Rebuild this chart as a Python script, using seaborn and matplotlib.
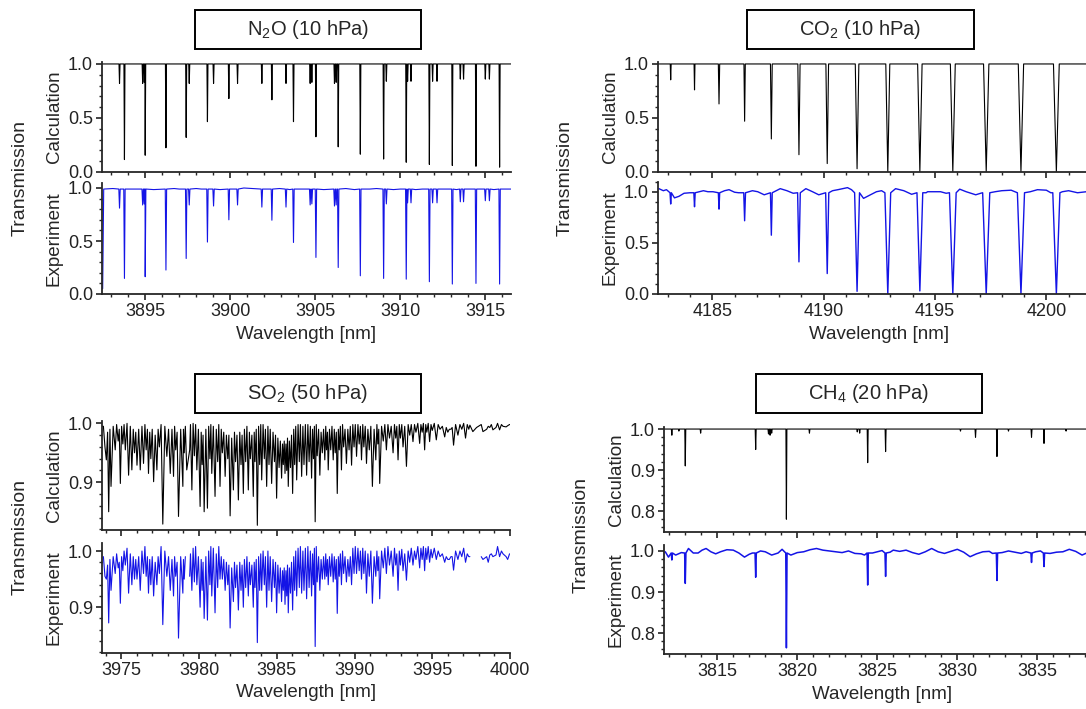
import numpy as np
import pandas as pd
import seaborn as sns
import matplotlib.pyplot as plt
from matplotlib.ticker import MultipleLocator, FormatStrFormatter
from matplotlib.patches import Rectangle

# --- Data (line centres in nm, transmission at line centre) ---

# N2O (10 hPa)
n2o_strong_pos = [3893.78, 3895.00, 3896.22, 3897.41, 3898.66, 3899.92, 3902.45, 3903.72, 3905.04,
                  3906.35, 3907.65, 3909.02, 3910.35, 3911.71, 3913.06, 3914.45, 3915.84]
n2o_strong_calc = [0.115, 0.155, 0.224, 0.32, 0.466, 0.68, 0.668, 0.466, 0.326,
                   0.233, 0.165, 0.12, 0.09, 0.07, 0.06, 0.053, 0.045]
n2o_strong_exp = [0.147, 0.163, 0.226, 0.335, 0.49, 0.70, 0.696, 0.486, 0.345,
                  0.25, 0.172, 0.147, 0.14, 0.116, 0.094, 0.10, 0.094]
n2o_weak_pos = [3893.49, 3894.85, 3894.95, 3897.59, 3899.02, 3900.43, 3901.86, 3903.28, 3904.70, 3904.80,
                3906.13, 3906.23, 3909.18, 3910.43, 3910.63, 3911.90, 3912.16, 3913.53, 3913.72,
                3915.00, 3915.24]
n2o_weak_calc = [0.82, 0.82, 0.83, 0.82, 0.82, 0.82, 0.82, 0.82, 0.82, 0.83,
                 0.82, 0.83, 0.84, 0.84, 0.84, 0.84, 0.84, 0.86, 0.86, 0.86, 0.86]
n2o_weak_exp = [0.81, 0.84, 0.85, 0.84, 0.83, 0.84, 0.82, 0.82, 0.84, 0.85,
                0.83, 0.84, 0.85, 0.86, 0.86, 0.86, 0.86, 0.87, 0.87, 0.88, 0.88]
n2o_calc_edges = [3892.46, 3916.51]
n2o_exp_base_x = [3892.50, 3892.56, 3893.1, 3894.3, 3895.5, 3896.7, 3897.0, 3898.0, 3898.3, 3899.4, 3900.0,
                  3900.8, 3901.3, 3902.0, 3902.9, 3903.5, 3904.2, 3905.5, 3906.0, 3906.8, 3907.3, 3908.2,
                  3908.6, 3909.6, 3910.0, 3910.9, 3911.3, 3912.5, 3913.3, 3914.0, 3914.8, 3915.5, 3916.2,
                  3916.5]
n2o_exp_base_y = [0.05, 0.99, 0.995, 0.99, 0.985, 0.995, 0.99, 0.995, 0.99, 0.985, 0.99,
                  1.0, 0.995, 0.99, 0.995, 0.985, 0.99, 0.985, 0.99, 0.995, 0.985, 0.99,
                  0.995, 0.985, 0.99, 0.985, 0.99, 0.99, 0.985, 0.99, 0.99, 0.985, 0.99,
                  0.99]

# CO2 (10 hPa)
co2_pos = [4183.13, 4184.20, 4185.30, 4186.45, 4187.65, 4188.89, 4190.16,
           4191.50, 4192.88, 4194.32, 4195.80, 4197.30, 4198.86, 4200.45]
co2_calc = [0.853, 0.76, 0.63, 0.47, 0.306, 0.16, 0.078, 0.03, 0.0, 0.0, 0.0, 0.0, 0.0, 0.0]
co2_calc_hw = [0.02, 0.02, 0.03, 0.03, 0.04, 0.05, 0.06, 0.08, 0.09, 0.10, 0.11, 0.12, 0.12, 0.13]
co2_calc_edges = [4182.56, 4202.41]
co2_exp = [0.88, 0.853, 0.83, 0.716, 0.575, 0.314, 0.20, 0.026, 0.0, 0.03, 0.0, 0.0, 0.0, 0.0]
co2_exp_hw = [0.03, 0.03, 0.03, 0.04, 0.04, 0.06, 0.07, 0.11, 0.13, 0.13, 0.15, 0.16, 0.16, 0.16]
co2_exp_base_x = [4182.60, 4182.80, 4182.94, 4183.30, 4183.50, 4183.73, 4184.00, 4184.60, 4184.80, 4185.03,
                  4185.55, 4185.75, 4186.00, 4186.18, 4186.80, 4187.04, 4187.33, 4188.05, 4188.35, 4188.63,
                  4189.20, 4189.50, 4189.78, 4190.40, 4190.64, 4191.07, 4191.25, 4191.79, 4192.10, 4192.37,
                  4192.60, 4193.23, 4193.60, 4193.95, 4194.60, 4194.67, 4195.00, 4195.25, 4195.50, 4196.11,
                  4196.40, 4196.83, 4197.05, 4197.70, 4198.00, 4198.42, 4198.65, 4199.28, 4199.60, 4200.00,
                  4200.20, 4200.72, 4201.00, 4201.40, 4201.80, 4202.30]
co2_exp_base_y = [1.03, 1.01, 1.02, 0.94, 0.955, 0.985, 0.99, 1.01, 1.0, 1.0,
                  1.01, 1.02, 0.995, 0.99, 1.01, 1.0, 0.97, 1.03, 1.01, 0.985,
                  1.03, 1.0, 0.97, 1.01, 1.02, 1.04, 1.02, 0.935, 0.97, 1.0,
                  1.01, 1.03, 1.01, 0.975, 0.99, 1.0, 1.0, 1.0, 0.985, 1.025,
                  1.0, 0.97, 0.985, 1.0, 1.01, 1.015, 1.0, 1.0, 1.02, 1.015,
                  0.99, 1.0, 1.01, 0.99, 1.0, 1.0]

# SO2 (50 hPa)
so2_pos = [3973.95, 3974.04, 3974.19, 3974.34, 3974.61, 3974.94, 3975.26, 3975.47, 3975.68, 3976.01,
           3976.22, 3976.43, 3976.75, 3977.08, 3977.29, 3977.67, 3977.93, 3978.15, 3978.36, 3978.68,
           3978.96, 3979.21, 3979.54, 3979.86, 3980.07, 3980.33, 3980.54, 3980.82, 3981.03, 3981.35,
           3981.68, 3982.00, 3982.21, 3982.53, 3982.85, 3983.17, 3983.49, 3983.75, 3984.03, 3984.35,
           3984.67, 3984.99, 3985.31, 3985.53, 3985.74, 3986.02, 3986.28, 3986.60, 3986.92, 3987.24,
           3987.47, 3987.77, 3988.09, 3988.31, 3988.63, 3988.89, 3989.16, 3989.48, 3989.81, 3990.13,
           3990.45, 3990.77, 3991.15, 3991.37, 3991.62, 3992.05, 3992.48, 3992.80, 3993.12, 3993.34,
           3993.76, 3994.19, 3994.51, 3994.83, 3995.26, 3995.80, 3996.37, 3996.65, 3997.14, 3997.61,
           3998.26, 3998.90, 3999.33, 3999.75]
so2_calc = [0.960, 0.938, 0.850, 0.893, 0.955, 0.898, 0.955, 0.912, 0.921, 0.929,
            0.921, 0.932, 0.915, 0.901, 0.921, 0.829, 0.944, 0.915, 0.910, 0.842,
            0.893, 0.921, 0.887, 0.921, 0.859, 0.850, 0.856, 0.915, 0.876, 0.893,
            0.910, 0.843, 0.887, 0.870, 0.881, 0.887, 0.876, 0.827, 0.904, 0.893,
            0.898, 0.873, 0.907, 0.915, 0.893, 0.881, 0.904, 0.910, 0.912, 0.907,
            0.833, 0.912, 0.938, 0.921, 0.938, 0.881, 0.921, 0.932, 0.929, 0.944,
            0.938, 0.932, 0.893, 0.938, 0.898, 0.955, 0.950, 0.938, 0.960, 0.927,
            0.969, 0.966, 0.955, 0.969, 0.972, 0.977, 0.963, 0.980, 0.975, 0.986,
            0.986, 0.989, 0.989, 0.994]
so2_exp = [0.955, 0.950, 0.872, 0.930, 0.960, 0.907, 0.975, 0.925, 0.940, 0.950,
           0.930, 0.960, 0.925, 0.920, 0.940, 0.869, 0.955, 0.930, 0.920, 0.845,
           0.925, 0.940, 0.930, 0.940, 0.900, 0.880, 0.877, 0.920, 0.890, 0.950,
           0.930, 0.863, 0.910, 0.895, 0.900, 0.920, 0.900, 0.837, 0.930, 0.900,
           0.910, 0.890, 0.910, 0.905, 0.890, 0.895, 0.920, 0.925, 0.915, 0.920,
           0.830, 0.930, 0.950, 0.940, 0.945, 0.889, 0.940, 0.945, 0.940, 0.960,
           0.950, 0.925, 0.907, 0.955, 0.915, 0.960, 0.955, 0.930, 0.965, 0.948,
           0.975, 0.970, 0.965, 0.980, 0.985, 0.980, 0.966, 0.985, 0.980, np.nan,
           0.985, 0.990, 0.990, 0.990]
so2_weak_pos = [3974.80, 3975.10, 3975.85, 3976.60, 3976.90, 3977.45, 3978.50, 3979.05, 3979.40, 3979.70,
                3980.20, 3980.70, 3981.20, 3981.50, 3981.85, 3982.35, 3982.70, 3983.00, 3983.30, 3983.60,
                3983.90, 3984.20, 3984.50, 3984.85, 3985.15, 3985.42, 3985.64, 3985.88, 3986.15, 3986.45,
                3986.75, 3987.08, 3987.36, 3987.60, 3987.93, 3988.20, 3988.47, 3988.76, 3989.02, 3989.30,
                3989.65, 3989.97, 3990.30, 3990.60, 3990.95, 3991.50, 3991.85, 3992.25, 3992.65, 3992.95,
                3993.55, 3993.95, 3994.35, 3994.65, 3995.00, 3995.50, 3996.00, 3996.20, 3996.90, 3997.35,
                3997.85, 3998.50, 3998.70, 3999.10, 3999.55]
so2_weak_depth = [0.970, 0.965, 0.950, 0.955, 0.940, 0.960, 0.955, 0.950, 0.955, 0.945,
                  0.930, 0.940, 0.935, 0.950, 0.940, 0.935, 0.930, 0.935, 0.940, 0.935,
                  0.930, 0.940, 0.930, 0.935, 0.925, 0.930, 0.920, 0.925, 0.930, 0.935,
                  0.930, 0.935, 0.940, 0.945, 0.950, 0.955, 0.955, 0.950, 0.955, 0.960,
                  0.955, 0.960, 0.965, 0.960, 0.955, 0.965, 0.970, 0.975, 0.975, 0.975,
                  0.980, 0.985, 0.985, 0.985, 0.988, 0.990, 0.985, 0.990, 0.990, 0.990,
                  0.993, 0.990, 0.993, 0.993, 0.995]
so2_calc_edges = [3973.78, 3999.99]
so2_calc_edge_y = [0.995, 0.998]
# local maxima of the traces between absorption lines
so2_peak_x = [3973.85, 3974.12, 3974.27, 3974.48, 3974.70, 3974.87, 3975.02, 3975.18, 3975.37, 3975.58,
              3975.77, 3975.93, 3976.12, 3976.33, 3976.52, 3976.68, 3976.83, 3976.99, 3977.18, 3977.37,
              3977.56, 3977.80, 3978.04, 3978.26, 3978.43, 3978.59, 3978.82, 3979.00, 3979.12, 3979.45,
              3979.62, 3979.78, 3979.96, 3980.14, 3980.26, 3980.44, 3980.62, 3980.76, 3980.92, 3981.11,
              3981.27, 3981.43, 3981.59, 3981.76, 3981.92, 3982.10, 3982.28, 3982.44, 3982.62, 3982.77,
              3982.92, 3983.08, 3983.24, 3983.40, 3983.55, 3983.68, 3983.83, 3983.97, 3984.12, 3984.27,
              3984.43, 3984.58, 3984.76, 3984.92, 3985.07, 3985.23, 3985.37, 3985.48, 3985.59, 3985.69,
              3985.81, 3985.95, 3986.09, 3986.22, 3986.37, 3986.52, 3986.68, 3986.84, 3987.00, 3987.16,
              3987.30, 3987.42, 3987.54, 3987.69, 3987.85, 3988.01, 3988.15, 3988.26, 3988.39, 3988.55,
              3988.70, 3988.83, 3988.96, 3989.09, 3989.23, 3989.39, 3989.57, 3989.73, 3989.89, 3990.05,
              3990.22, 3990.38, 3990.53, 3990.69, 3990.86, 3991.05, 3991.26, 3991.44, 3991.56, 3991.74,
              3991.95, 3992.15, 3992.36, 3992.57, 3992.72, 3992.88, 3993.04, 3993.23, 3993.45, 3993.65,
              3993.86, 3994.07, 3994.27, 3994.43, 3994.58, 3994.74, 3994.92, 3995.13, 3995.38, 3995.65,
              3995.90, 3996.10, 3996.28, 3996.50, 3996.78, 3997.02, 3997.25, 3997.42,
              3998.15, 3998.60, 3998.80, 3999.20, 3999.45, 3999.85, 3999.97]
so2_calc_peak_y = [0.995, 0.985, 0.99, 0.995, 0.998, 0.99, 0.995, 0.998, 1.0, 0.995,
                   0.99, 0.985, 0.99, 0.995, 0.998, 0.99, 0.985, 0.99, 0.98, 0.99,
                   0.998, 0.995, 0.99, 0.99, 0.995, 0.985, 0.99, 0.99, 0.995, 0.998,
                   1.0, 0.998, 0.99, 0.985, 0.98, 0.99, 0.995, 0.998, 0.995, 0.99,
                   0.998, 0.99, 0.985, 0.98, 0.98, 0.975, 0.985, 0.98, 0.985, 0.98,
                   0.99, 0.995, 0.985, 0.98, 0.985, 0.99, 0.995, 0.998, 0.998, 0.99,
                   0.995, 0.99, 0.985, 0.98, 0.975, 0.97, 0.965, 0.97, 0.965, 0.975,
                   0.97, 0.98, 0.99, 0.995, 0.998, 0.998, 0.995, 0.998, 0.998, 0.995,
                   0.99, 0.995, 0.998, 0.99, 0.985, 0.99, 0.995, 0.985, 0.99, 0.995,
                   0.99, 0.985, 0.99, 0.995, 0.998, 0.99, 0.99, 0.995, 0.998, 0.998,
                   0.998, 0.995, 0.998, 0.995, 0.99, 0.995, 0.99, 0.998, 0.99, 0.995,
                   0.998, 0.998, 0.995, 0.998, 0.995, 0.998, 0.998, 0.995, 0.998, 0.998,
                   0.998, 1.0, 0.998, 1.0, 0.998, 1.0, 0.998, 1.0, 0.998, 0.995,
                   0.993, 0.99, 0.993, 0.998, 0.998, 1.0, 0.998, 0.997,
                   0.998, 0.995, 0.998, 1.0, 0.998, 0.996, 0.998]
so2_exp_peak_y = [0.99, 0.975, 0.985, 0.99, 0.995, 0.98, 0.99, 1.0, 1.005, 0.995,
                  0.99, 0.985, 0.99, 1.0, 1.008, 0.99, 0.985, 0.99, 0.98, 0.99,
                  1.008, 1.0, 0.99, 0.985, 0.99, 0.98, 0.99, 0.985, 0.99, 0.995,
                  1.005, 1.008, 0.99, 0.985, 0.98, 0.99, 1.0, 1.008, 1.005, 0.995,
                  1.008, 0.99, 0.985, 0.98, 0.975, 0.97, 0.98, 0.975, 0.98, 0.975,
                  0.985, 0.99, 0.98, 0.975, 0.98, 0.985, 0.99, 0.995, 1.0, 0.99,
                  1.0, 0.99, 0.985, 0.98, 0.975, 0.97, 0.965, 0.97, 0.965, 0.975,
                  0.97, 0.98, 0.99, 1.0, 1.005, 1.008, 1.0, 1.005, 1.008, 1.0,
                  0.995, 1.005, 1.008, 0.99, 0.985, 0.99, 0.995, 0.985, 0.99, 0.995,
                  0.99, 0.985, 0.99, 0.995, 1.0, 0.99, 0.985, 0.99, 1.005, 1.008,
                  1.005, 1.0, 1.005, 1.0, 0.995, 1.0, 0.99, 1.0, 0.99, 1.0,
                  1.005, 1.008, 1.0, 1.005, 0.995, 1.0, 1.003, 0.995, 1.0, 1.005,
                  1.0, 1.008, 1.005, 1.008, 1.005, 1.008, 1.003, 1.005, 1.0, 0.995,
                  0.99, 0.985, 0.99, 1.0, 1.0, 1.005, 0.995, 0.99,
                  0.99, 0.98, 0.995, 1.008, 1.0, 0.985, 0.995]
so2_exp_segments = [(3973.80, 3979.15), (3979.40, 3997.45), (3998.10, 4000.00)]

# CH4 (20 hPa)
ch4_calc_pos = [3812.16, 3812.60, 3813.00, 3813.96, 3817.40, 3818.20, 3818.30, 3818.40, 3819.32, 3820.76,
                3823.75, 3823.90, 3824.40, 3825.52, 3830.20, 3831.14, 3832.48, 3833.20, 3834.64, 3835.42,
                3836.80]
ch4_calc = [0.985, 0.995, 0.91, 0.99, 0.95, 0.988, 0.985, 0.99, 0.78, 0.99,
            0.993, 0.99, 0.918, 0.945, 0.995, 0.98, 0.933, 0.995, 0.98, 0.965,
            0.995]
ch4_calc_edges = [3811.70, 3838.90]
ch4_exp_pos = [3812.16, 3813.00, 3817.40, 3819.32, 3824.40, 3825.52, 3832.48, 3834.64, 3835.42]
ch4_exp = [0.978, 0.921, 0.936, 0.764, 0.917, 0.938, 0.928, 0.972, 0.962]
ch4_exp_base_x = [3811.75, 3811.95, 3812.40, 3812.75, 3813.20, 3813.50, 3813.80, 3814.05, 3814.30, 3814.60,
                  3814.90, 3815.20, 3815.60, 3816.00, 3816.35, 3816.70, 3817.00, 3817.20, 3817.70, 3818.00,
                  3818.40, 3818.80, 3819.05, 3819.60, 3820.00, 3820.40, 3820.80, 3821.20, 3821.60, 3822.00,
                  3822.40, 3822.80, 3823.20, 3823.60, 3824.00, 3824.20, 3824.70, 3825.00, 3825.30, 3825.80,
                  3826.00, 3826.40, 3826.80, 3827.20, 3827.60, 3828.00, 3828.40, 3828.80, 3829.20, 3829.60,
                  3830.00, 3830.40, 3830.80, 3831.20, 3831.60, 3832.00, 3832.20, 3832.80, 3833.20, 3833.60,
                  3834.00, 3834.30, 3834.90, 3835.20, 3835.80, 3836.20, 3836.60, 3837.00, 3837.40, 3837.80,
                  3838.20, 3838.60]
ch4_exp_base_y = [0.998, 0.985, 0.99, 0.996, 1.006, 0.995, 0.995, 1.002, 1.006, 0.998,
                  0.993, 0.998, 1.003, 1.002, 0.995, 0.985, 0.992, 0.995, 1.0, 0.998,
                  0.99, 0.995, 1.004, 0.99, 0.996, 0.998, 1.003, 1.006, 1.002, 1.0,
                  0.998, 0.996, 1.0, 0.994, 0.993, 0.99, 0.995, 0.998, 1.001, 0.997,
                  1.002, 0.999, 1.002, 0.996, 0.992, 0.998, 1.006, 0.998, 0.994, 0.999,
                  1.004, 0.997, 0.986, 0.993, 0.998, 0.999, 0.994, 0.996, 1.0, 0.997,
                  0.994, 0.998, 0.998, 1.0, 0.994, 0.997, 0.998, 1.004, 0.999, 0.99,
                  0.997, 0.995]


def stick_spectrum(pos, depth, hw, top, base_x=(), base_y=(), segments=None):
    """Join line centres and baseline samples into one trace.

    With `top` set, every line gets shoulders at that level (pos +/- hw);
    with top=None the line centres are joined straight to their neighbours.
    """
    pos = np.asarray(pos, float)
    depth = np.asarray(depth, float)
    hw = np.broadcast_to(np.asarray(hw, float), pos.shape)
    xs, ys = [], []
    for p, d, w in zip(pos, depth, hw):
        if np.isnan(d):
            continue
        if top is None:
            xs.append(p)
            ys.append(d)
        else:
            xs += [p - w, p, p + w]
            ys += [top, d, top]
    for bx, by in zip(base_x, base_y):
        if np.all(np.abs(pos - bx) > hw * 1.5):
            xs.append(bx)
            ys.append(by)
    df = pd.DataFrame({"wavelength": xs, "transmission": ys})
    df = df.sort_values("wavelength", kind="mergesort").reset_index(drop=True)
    if segments is None:
        df["segment"] = 0
    else:
        df["segment"] = -1
        for i, (lo, hi) in enumerate(segments):
            df.loc[(df.wavelength >= lo) & (df.wavelength <= hi), "segment"] = i
        df = df[df.segment >= 0]
    return df


n2o_lines = n2o_strong_pos + n2o_weak_pos
n2o_calc_df = stick_spectrum(n2o_lines, n2o_strong_calc + n2o_weak_calc, 0.03, 1.0,
                             n2o_calc_edges, [1.0, 1.0])
n2o_exp_df = stick_spectrum(n2o_lines, n2o_strong_exp + n2o_weak_exp, 0.04, 0.99,
                            n2o_exp_base_x, n2o_exp_base_y)
co2_calc_df = stick_spectrum(co2_pos, co2_calc, co2_calc_hw, 1.0, co2_calc_edges, [1.0, 1.0])
co2_exp_df = stick_spectrum(co2_pos, co2_exp, co2_exp_hw, 0.99, co2_exp_base_x, co2_exp_base_y)
so2_lines = so2_pos + so2_weak_pos
so2_calc_df = stick_spectrum(so2_lines, so2_calc + so2_weak_depth, 0.0, None,
                             so2_calc_edges + so2_peak_x, so2_calc_edge_y + so2_calc_peak_y)
so2_exp_df = stick_spectrum(so2_lines, so2_exp + so2_weak_depth, 0.0, None,
                            so2_peak_x, so2_exp_peak_y, so2_exp_segments)
ch4_calc_df = stick_spectrum(ch4_calc_pos, ch4_calc, 0.03, 1.0, ch4_calc_edges, [1.0, 1.0])
ch4_exp_df = stick_spectrum(ch4_exp_pos, ch4_exp, 0.04, 0.995, ch4_exp_base_x, ch4_exp_base_y)

# --- Figure ---
sns.set_style("ticks")
plt.rcParams['font.family'] = ['Liberation Sans', 'DejaVu Sans']
plt.rcParams['mathtext.fontset'] = 'custom'
plt.rcParams['mathtext.rm'] = 'Liberation Sans'

W, H = 1086, 709
fig = plt.figure(figsize=(W / 100, H / 100), dpi=100)

CALC_COLOR = "black"
EXP_COLOR = "#1414e6"


def add_axes(l, t, r, b):
    return fig.add_axes([l / W, 1 - b / H, (r - l) / W, (b - t) / H])


def draw(ax, df, color, xlim, ylim, ymajor, yminor, ylabel, width_px, height_px, bottom=False, lw=0.8):
    sns.lineplot(data=df, x="wavelength", y="transmission", units="segment", estimator=None,
                 sort=False, color=color, lw=lw, ax=ax, legend=False)
    ax.set_xlim(xlim)
    ax.set_ylim(ylim)
    ax.xaxis.set_major_locator(MultipleLocator(5))
    ax.xaxis.set_minor_locator(MultipleLocator(1))
    ax.yaxis.set_major_locator(MultipleLocator(ymajor))
    ax.yaxis.set_minor_locator(MultipleLocator(yminor))
    ax.yaxis.set_major_formatter(FormatStrFormatter('%.1f'))
    sns.despine(ax=ax)
    for s in ("left", "bottom"):
        ax.spines[s].set_linewidth(1.3)
    ax.tick_params(which='major', length=4.5, width=1.2, labelsize=13, pad=2, colors='#222222')
    ax.tick_params(which='minor', length=2.5, width=1.0)
    ax.set_ylabel(ylabel, fontsize=13.5, va='center')
    ax.yaxis.set_label_coords(-48 / width_px, 0.5)
    if bottom:
        ax.set_xlabel("Wavelength [nm]", fontsize=13.5, va='center')
        ax.xaxis.set_label_coords(0.5, -40 / height_px)
    else:
        ax.set_xlabel("")
        ax.tick_params(axis='x', labelbottom=False)


def title_box(l, t, r, b, text):
    fig.add_artist(Rectangle((l / W, 1 - b / H), (r - l) / W, (b - t) / H, transform=fig.transFigure,
                             fill=False, lw=1.4, ec='black'))
    fig.text((l + r) / 2 / W, 1 - (t + b) / 2 / H, text, ha='center', va='center', fontsize=14.5)


# N2O
ax = add_axes(102, 61.8, 511, 172)
draw(ax, n2o_calc_df, CALC_COLOR, (3892.46, 3916.51), (0, 1.02), 0.5, 0.1, "Calculation", 409, 110)
ax = add_axes(102, 182.7, 511, 294)
draw(ax, n2o_exp_df, EXP_COLOR, (3892.46, 3916.51), (0, 1.05), 0.5, 0.1, "Experiment", 409, 111, True)
title_box(195, 10, 421, 49, "N$_\\mathregular{2}$O (10 hPa)")
fig.text(20 / W, 1 - 178 / H, "Transmission", rotation=90, ha='center', va='center', fontsize=14)

# CO2
ax = add_axes(658, 61.8, 1100, 172)
draw(ax, co2_calc_df, CALC_COLOR, (4182.56, 4202.41), (0, 1.02), 0.5, 0.1, "Calculation", 442, 110)
ax = add_axes(658, 181.5, 1100, 294)
draw(ax, co2_exp_df, EXP_COLOR, (4182.56, 4202.41), (0, 1.1), 0.5, 0.1, "Experiment", 442, 112, True,
     lw=1.0)
title_box(747, 10, 974, 49, "CO$_\\mathregular{2}$ (10 hPa)")
fig.text(565 / W, 1 - 178 / H, "Transmission", rotation=90, ha='center', va='center', fontsize=14)

# SO2
ax = add_axes(102, 421, 510, 530)
draw(ax, so2_calc_df, CALC_COLOR, (3973.76, 4000.0), (0.819, 1.004), 0.1, 0.02, "Calculation", 408, 109)
ax = add_axes(102, 542.6, 510, 652.7)
draw(ax, so2_exp_df, EXP_COLOR, (3973.76, 4000.0), (0.819, 1.015), 0.1, 0.02, "Experiment", 408, 110, True)
title_box(195, 374, 421, 413, "SO$_\\mathregular{2}$ (50 hPa)")
fig.text(20 / W, 1 - 537 / H, "Transmission", rotation=90, ha='center', va='center', fontsize=14)

# CH4
ax = add_axes(664, 427, 1100, 531.7)
draw(ax, ch4_calc_df, CALC_COLOR, (3811.67, 3838.92), (0.7495, 1.005), 0.1, 0.02, "Calculation", 436, 105)
ax = add_axes(664, 544.8, 1100, 654)
draw(ax, ch4_exp_df, EXP_COLOR, (3811.67, 3838.92), (0.749, 1.015), 0.1, 0.02, "Experiment", 436, 109, True,
     lw=1.1)
title_box(756, 374, 982, 413, "CH$_\\mathregular{4}$ (20 hPa)")
fig.text(581 / W, 1 - 535 / H, "Transmission", rotation=90, ha='center', va='center', fontsize=14)

fig.savefig("out.png", dpi=100)
plt.close(fig)
